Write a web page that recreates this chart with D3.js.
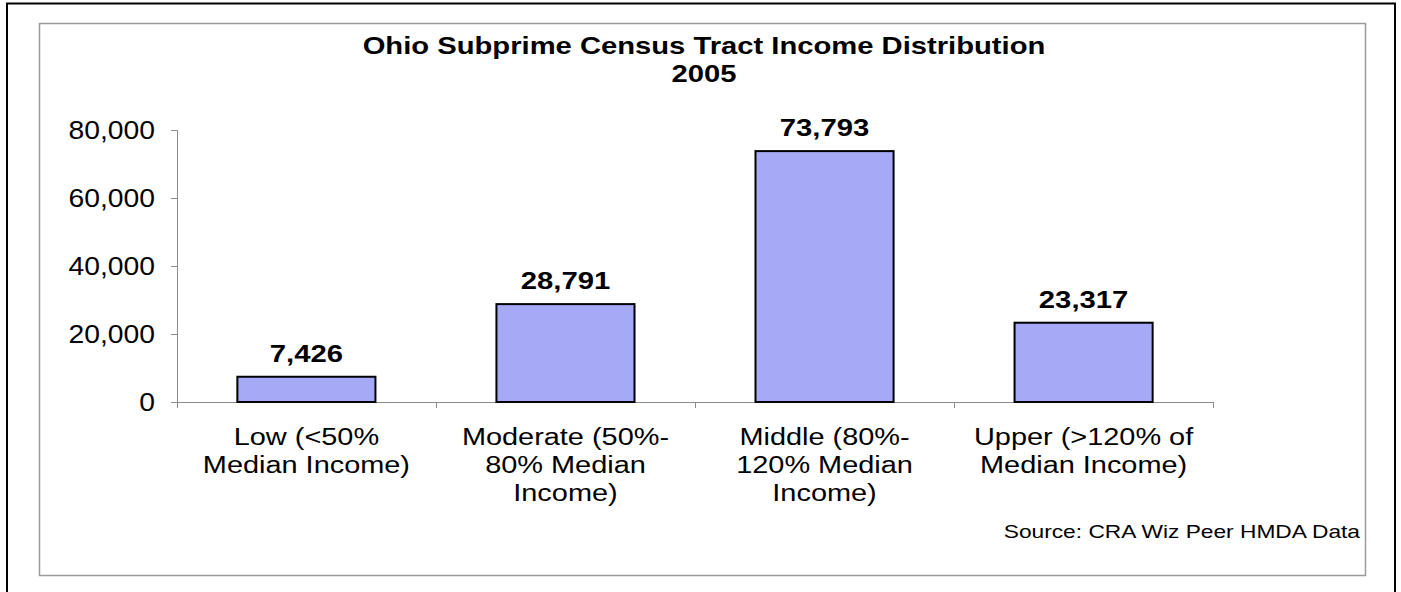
<!DOCTYPE html>
<html>
<head>
<meta charset="utf-8">
<script src="https://cdn.jsdelivr.net/npm/d3@7/dist/d3.min.js"></script>
<style>
  html, body { margin: 0; padding: 0; background: #fff; }
  svg { display: block; }
  text { font-family: Arial, "Liberation Sans", Helvetica, sans-serif; fill: #000; }
</style>
</head>
<body>
<svg id="chart" width="1401" height="592"></svg>
<script>
// Subprime loan counts by census tract income level, Ohio 2005
const categories = ["Low", "Moderate", "Middle", "Upper"];
const categoryLines = [
  ["Low (<50%", "Median Income)"],
  ["Moderate (50%-", "80% Median", "Income)"],
  ["Middle (80%-", "120% Median", "Income)"],
  ["Upper (>120% of", "Median Income)"]
];
const loans = [7426, 28791, 73793, 23317];
const yTicks = [0, 20000, 40000, 60000, 80000];
const titleLines = ["Ohio Subprime Census Tract Income Distribution", "2005"];
const sourceNote = "Source: CRA Wiz Peer HMDA Data";

const svg = d3.select("#chart");

// outer frame (continues below the visible area) and inner chart panel
svg.append("rect").attr("x", 7).attr("y", 3.5).attr("width", 1388).attr("height", 600)
  .attr("fill", "none").attr("stroke", "#000").attr("stroke-width", 2);
svg.append("rect").attr("x", 39.5).attr("y", 23.5).attr("width", 1326).attr("height", 552)
  .attr("fill", "#fff").attr("stroke", "#9a9a9a").attr("stroke-width", 1.5);

// lettering is drawn slightly widened horizontally
function stretchedText(g, x, y, str, sx) {
  return g.append("text")
    .attr("transform", `translate(${x},${y}) scale(${sx},1)`)
    .text(str);
}

const plot = { left: 177, right: 1213, top: 130, bottom: 402 };

const x = d3.scaleBand().domain(categories)
  .range([plot.left, plot.right]).paddingInner(0.467).paddingOuter(0.233);
const y = d3.scaleLinear().domain([0, 80000]).range([plot.bottom, plot.top]);

// title
titleLines.forEach((t, i) => {
  stretchedText(svg, 704, 54 + i * 28, t, 1.27)
    .attr("text-anchor", "middle").attr("font-weight", "bold").attr("font-size", 23);
});

// y axis
const yAxis = svg.append("g").attr("transform", `translate(${plot.left},0)`)
  .call(d3.axisLeft(y).tickValues(yTicks).tickSize(6).tickFormat(d3.format(",")));
yAxis.select(".domain").attr("stroke", "#8c8c8c");
yAxis.selectAll(".tick line").attr("stroke", "#8c8c8c");
yAxis.selectAll(".tick text").remove();
yAxis.selectAll(".tick").each(function (d) {
  stretchedText(d3.select(this), -22, 8, d3.format(",")(d), 1.11)
    .attr("text-anchor", "end").attr("font-size", 25.5);
});

// x axis with ticks at category boundaries
const xg = svg.append("g");
xg.append("line").attr("x1", plot.left).attr("x2", plot.right)
  .attr("y1", plot.bottom + 0.5).attr("y2", plot.bottom + 0.5).attr("stroke", "#8c8c8c");
const step = x.step();
d3.range(categories.length + 1).forEach(i => {
  const px = Math.round(plot.left + i * step) + 0.5;
  xg.append("line").attr("x1", px).attr("x2", px)
    .attr("y1", plot.bottom).attr("y2", plot.bottom + 6).attr("stroke", "#8c8c8c");
});

// bars
svg.append("g").selectAll("rect").data(loans).join("rect")
  .attr("x", (d, i) => x(categories[i]))
  .attr("y", d => y(d))
  .attr("width", x.bandwidth())
  .attr("height", d => y(0) - y(d))
  .attr("fill", "#a6a9f6").attr("stroke", "#000").attr("stroke-width", 2);

// value labels
const vl = svg.append("g");
loans.forEach((d, i) => {
  stretchedText(vl, x(categories[i]) + x.bandwidth() / 2, y(d) - 15, d3.format(",")(d), 1.22)
    .attr("text-anchor", "middle").attr("font-weight", "bold").attr("font-size", 24);
});

// category labels
const cl = svg.append("g");
categoryLines.forEach((lines, i) => {
  const cx = x(categories[i]) + x.bandwidth() / 2;
  lines.forEach((t, j) => {
    stretchedText(cl, cx, 445 + j * 28, t, 1.18).attr("text-anchor", "middle").attr("font-size", 24.5);
  });
});

// source note
stretchedText(svg, 1360, 538, sourceNote, 1.3).attr("text-anchor", "end").attr("font-size", 17.5);
</script>
</body>
</html>
